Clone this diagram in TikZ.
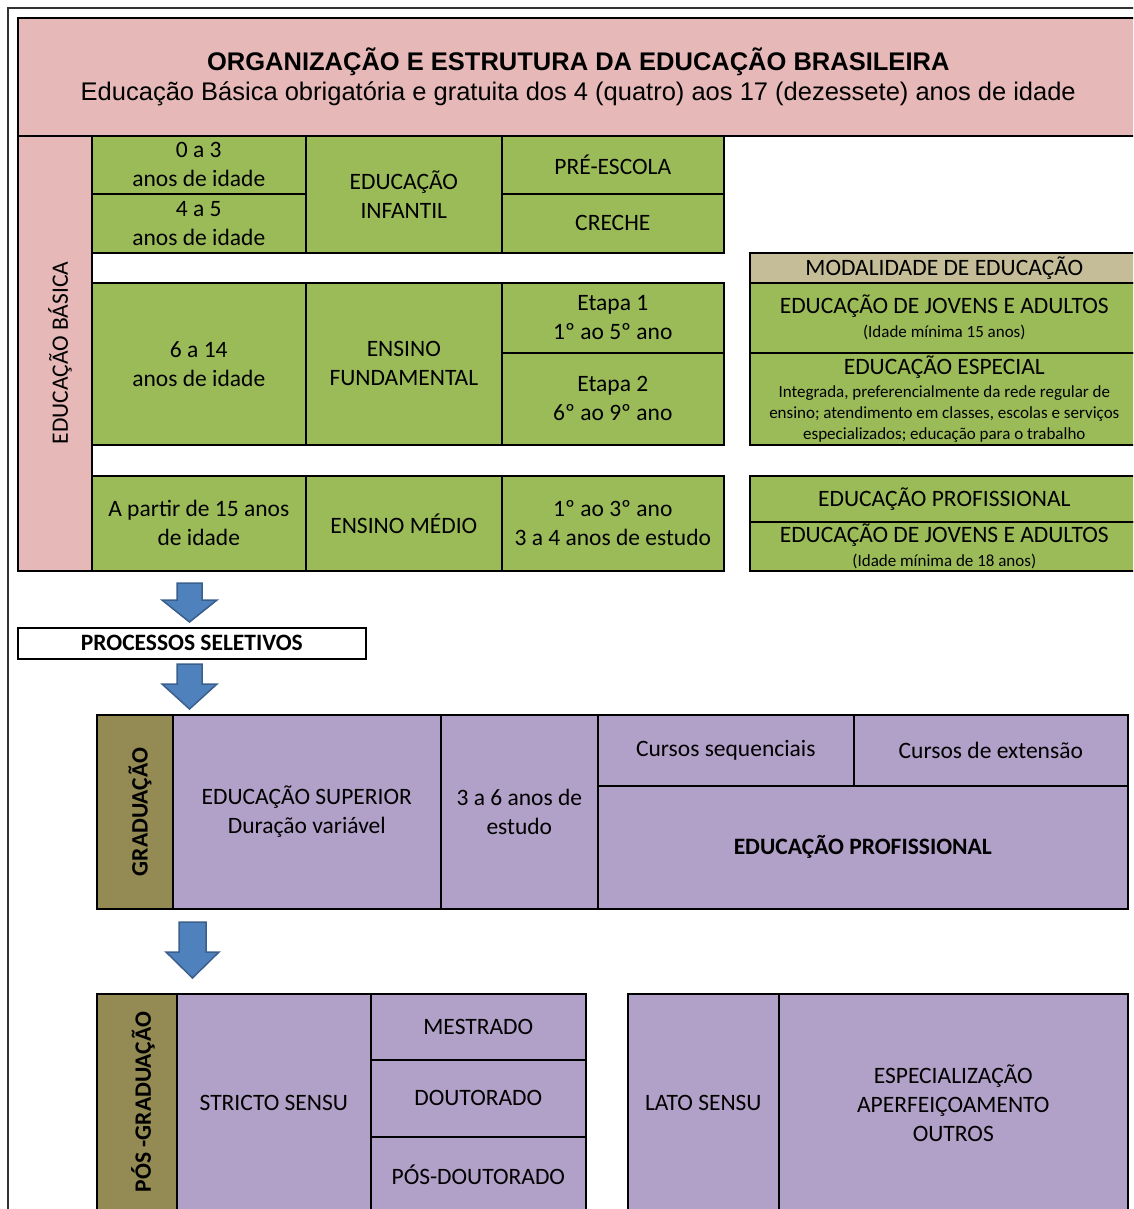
\documentclass[tikz,border=0pt]{standalone}
\usepackage{fontspec}
\setmainfont{Carlito}
\newfontfamily\arialf{Liberation Sans}
\usetikzlibrary{calc}
\definecolor{cpink}{HTML}{E6B9B8}
\definecolor{cgreen}{HTML}{9BBB59}
\definecolor{ctan}{HTML}{C4BD97}
\definecolor{colive}{HTML}{948A54}
\definecolor{cpurple}{HTML}{B1A0C7}
\definecolor{cblue}{HTML}{4F81BD}
\definecolor{cbluedk}{HTML}{3B5F8C}
\newcommand\cell[7]{\node[#6, minimum width={#4pt-#2pt}, minimum height={#5pt-#3pt}] (#1) at (#2,#3) {#7};}
\newcommand\barrow[6]{% name, top, halfshaft, halfhead, shaftlen, headlen
  \coordinate (#1) at #2;
  \draw[blockarrow] ($(#1)+(-#3,0)$) -- ++({2*#3},0) -- ++(0,#5) -- ++({#4-#3},0)
    -- ($(#1)+(0,{#5+#6})$) -- ($(#1)+(-#4,#5)$) -- ++({#4-#3},0) -- cycle;}
\newcommand\smf{\fontsize{17}{21}\selectfont}
\tikzset{
  cellbox/.style={draw=black, line width=1.6pt, anchor=north west, inner sep=0pt,
    align=center, text=black, font=\fontsize{23.5}{29}\selectfont},
  pinkcell/.style={cellbox, fill=cpink},
  gcell/.style={cellbox, fill=cgreen},
  tcell/.style={cellbox, fill=ctan},
  ocell/.style={cellbox, fill=colive},
  pcell/.style={cellbox, fill=cpurple},
  wcell/.style={cellbox, fill=white},
  modcell/.style={gcell, font=\fontsize{23.5}{21}\selectfont},
  vlabel/.style={rotate=90, inner sep=0pt, text=black, font=\fontsize{23.5}{29}\selectfont},
  vlabelb/.style={vlabel, font=\bfseries\fontsize{23.5}{29}\selectfont},
  boldcell/.style={font=\bfseries\fontsize{23.5}{28}\selectfont},
  blockarrow/.style={fill=cblue, draw=cbluedk, line width=1.5pt, line join=miter},
  frameline/.style={draw=black!80, line width=1.4pt}
}
\begin{document}
\begin{tikzpicture}[x=1pt,y=-1pt]
\useasboundingbox (0,0) rectangle (1133,1209);
\clip (0,0) rectangle (1133,1209);
\fill[white] (0,0) rectangle (1133,1209);
\draw[frameline] (8,1215) -- (8,8) -- (1140,8);

% header
\cell{hdr}{17}{17}{1138}{135}{pinkcell, font=\arialf\fontsize{25.5}{30}\selectfont}{{\bfseries ORGANIZAÇÃO E ESTRUTURA DA EDUCAÇÃO BRASILEIRA}\\Educação Básica obrigatória e gratuita dos 4 (quatro) aos 17 (dezessete) anos de idade}

% educação básica
\cell{eb}{17}{135}{91}{570}{pinkcell}{}
\node[vlabel] (ebl) at (60,353) {EDUCAÇÃO BÁSICA};

\cell{a03}{91}{135}{305}{193}{gcell}{0 a 3\\anos de idade}
\cell{a45}{91}{193}{305}{252}{gcell}{4 a 5\\anos de idade}
\cell{einf}{305}{135}{501}{252}{gcell}{EDUCAÇÃO\\INFANTIL}
\cell{pre}{501}{135}{723}{193}{gcell}{PRÉ-ESCOLA}
\cell{cre}{501}{193}{723}{252}{gcell}{CRECHE}

\cell{a614}{91}{282}{305}{444}{gcell}{6 a 14\\anos de idade}
\cell{efund}{305}{282}{501}{444}{gcell}{ENSINO\\FUNDAMENTAL}
\cell{et1}{501}{282}{723}{352}{gcell}{Etapa 1\\1º ao 5º ano}
\cell{et2}{501}{352}{723}{444}{gcell}{Etapa 2\\6º ao 9º ano}

\cell{a15}{91}{475}{305}{570}{gcell}{A partir de 15 anos\\de idade}
\cell{emed}{305}{475}{501}{570}{gcell}{ENSINO MÉDIO}
\cell{ano13}{501}{475}{723}{570}{gcell}{1º ao 3º ano\\3 a 4 anos de estudo}

% modalidade
\cell{modh}{749}{252}{1138}{282}{tcell}{MODALIDADE DE EDUCAÇÃO}
\cell{eja1}{749}{282}{1138}{352}{modcell}{EDUCAÇÃO DE JOVENS E ADULTOS\\[3pt]\smf (Idade mínima 15 anos)}
\cell{eesp}{749}{352}{1138}{444}{modcell}{EDUCAÇÃO ESPECIAL\\[2pt]\smf Integrada, preferencialmente da rede regular de\\\smf ensino; atendimento em classes, escolas e serviços\\\smf especializados; educação para o trabalho}
\cell{eprof}{749}{475}{1138}{521}{gcell}{EDUCAÇÃO PROFISSIONAL}
\cell{eja2}{749}{521}{1138}{570}{modcell}{EDUCAÇÃO DE JOVENS E ADULTOS\\[3pt]\smf (Idade mínima de 18 anos)}

% arrows and selection
\barrow{ar1}{(189.5,583)}{12.5}{27.5}{17}{22}
\cell{ps}{17}{627}{365}{658}{wcell, boldcell}{PROCESSOS SELETIVOS}
\barrow{ar2}{(189.5,664)}{12.5}{27.5}{20}{25}

% graduação
\cell{grl}{96}{714}{172}{908}{ocell}{}
\node[vlabelb] (grt) at (140,812) {GRADUAÇÃO};
\cell{esup}{172}{714}{440}{908}{pcell}{EDUCAÇÃO SUPERIOR\\Duração variável}
\cell{a36}{440}{714}{597}{908}{pcell}{3 a 6 anos de\\estudo}
\cell{cseq}{597}{714}{853}{785}{pcell}{Cursos sequenciais}
\cell{cext}{853}{714}{1127}{785}{pcell}{Cursos de extensão}
\cell{eprof2}{597}{785}{1127}{908}{pcell, boldcell}{EDUCAÇÃO PROFISSIONAL}

\barrow{ar3}{(192.5,922)}{13.5}{26.5}{30}{26}

% pós-graduação
\cell{pgl}{96}{993}{176}{1212}{ocell}{}
\node[vlabelb] (pgt) at (143,1102) {PÓS -GRADUAÇÃO};
\cell{ss}{176}{993}{370}{1212}{pcell}{STRICTO SENSU}
\cell{mes}{370}{993}{585}{1059}{pcell}{MESTRADO}
\cell{dout}{370}{1059}{585}{1136}{pcell}{DOUTORADO}
\cell{pdout}{370}{1136}{585}{1212}{pcell}{PÓS-DOUTORADO}
\cell{ls}{627}{993}{778}{1212}{pcell}{LATO SENSU}
\cell{esp}{778}{993}{1127}{1212}{pcell}{ESPECIALIZAÇÃO\\APERFEIÇOAMENTO\\OUTROS}
\end{tikzpicture}
\end{document}
